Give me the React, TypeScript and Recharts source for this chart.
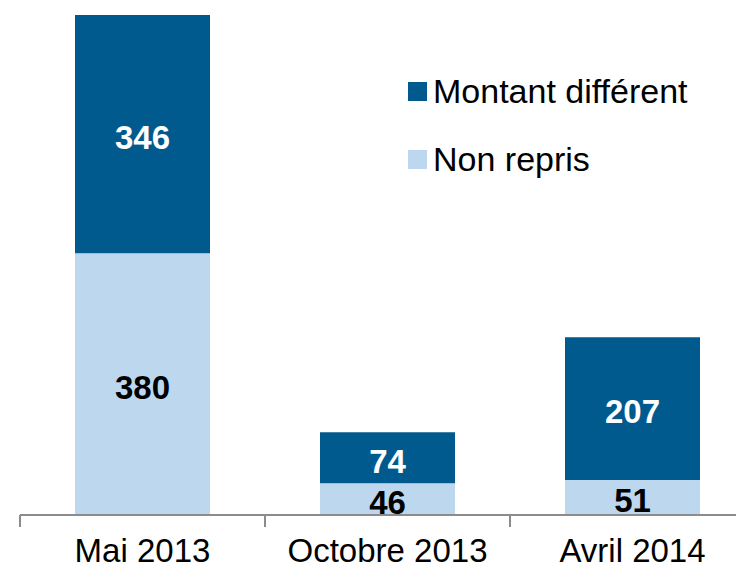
import React from 'react';
import { BarChart, Bar, XAxis, YAxis, Legend, LabelList } from 'recharts';

const categories = ['Mai 2013', 'Octobre 2013', 'Avril 2014'];
const nonRepris = [380, 46, 51];
const montantDifferent = [346, 74, 207];

const series = [
    { key: 'montant', name: 'Montant différent', color: '#005A8E', values: montantDifferent },
    { key: 'nonRepris', name: 'Non repris', color: '#BDD7EE', values: nonRepris },
];

const data = categories.map((name, i) => ({
    name,
    nonRepris: nonRepris[i],
    montant: montantDifferent[i],
}));

const FONT = '"Liberation Sans", Arial, sans-serif';
const AXIS_GREY = '#8C8C8C';

// category label plus a tick mark on the band's left edge (and the right edge for the last one)
const BandTick = (props: any) => {
    const { x, y, payload, index } = props;
    const half = payload.offset || 0;
    return (
        <g>
            <line x1={x - half} x2={x - half} y1={y} y2={y + 12} stroke={AXIS_GREY} strokeWidth={2} />
            {index === categories.length - 1 && (
                <line x1={x + half} x2={x + half} y1={y} y2={y + 12} stroke={AXIS_GREY} strokeWidth={2} />
            )}
            <text x={x} y={y + 47} textAnchor="middle" fill="#000" fontSize={33} fontFamily={FONT}>
                {payload.value}
            </text>
        </g>
    );
};

const LegendBox = () => (
    <div style={{ fontFamily: FONT, fontSize: 34, color: '#000' }}>
        {series.map((s, i) => (
            <div key={s.key} style={{ display: 'flex', alignItems: 'center', height: 34, marginBottom: i === 0 ? 34 : 0 }}>
                <span style={{ width: 19, height: 19, background: s.color, display: 'inline-block', marginRight: 6 }} />
                <span style={{ whiteSpace: 'nowrap' }}>{s.name}</span>
            </div>
        ))}
    </div>
);

const App = () => {
    return (
        <div style={{ position: 'absolute', left: 0, top: 0, width: 736, height: 569, overflow: 'hidden', background: '#fff' }}>
            <BarChart
                width={760}
                height={569}
                data={data}
                margin={{ top: 15, right: 5, bottom: 0, left: 20 }}
                barCategoryGap={55}
            >
                <XAxis
                    dataKey="name"
                    height={54}
                    axisLine={{ stroke: AXIS_GREY, strokeWidth: 2 }}
                    tickLine={false}
                    tickSize={0}
                    tickMargin={0}
                    interval={0}
                    tick={<BandTick />}
                />
                <YAxis hide domain={[0, 726]} />
                <Legend
                    layout="horizontal"
                    verticalAlign="middle"
                    align="center"
                    wrapperStyle={{ top: 74, left: 408, width: 320 }}
                    content={() => <LegendBox />}
                />
                <Bar dataKey="nonRepris" name="Non repris" stackId="a" fill="#BDD7EE" isAnimationActive={false}>
                    <LabelList dataKey="nonRepris" position="center" dy={3} fill="#000" fontSize={33} fontWeight="bold" fontFamily={FONT} />
                </Bar>
                <Bar dataKey="montant" name="Montant différent" stackId="a" fill="#005A8E" isAnimationActive={false}>
                    <LabelList dataKey="montant" position="center" dy={3} fill="#fff" fontSize={33} fontWeight="bold" fontFamily={FONT} />
                </Bar>
            </BarChart>
        </div>
    );
};

export default App;
